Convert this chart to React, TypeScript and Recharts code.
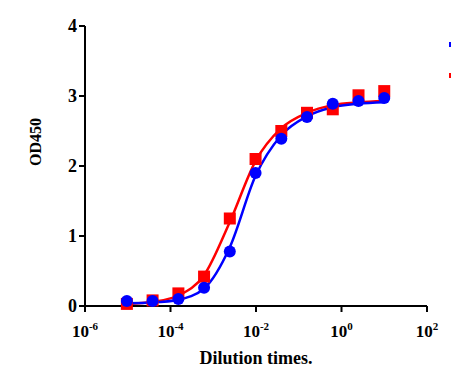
import { ComposedChart, Line, Scatter, XAxis, YAxis, Legend } from "recharts";

// dilution factors (4-fold series), ascending
const dilution = [9.54e-6, 3.81e-5, 1.53e-4, 6.1e-4, 2.44e-3, 9.77e-3, 0.0391, 0.156, 0.625, 2.5, 10];
const blueOD = [0.07, 0.07, 0.1, 0.26, 0.78, 1.9, 2.39, 2.7, 2.89, 2.93, 2.97];
const redOD = [0.03, 0.08, 0.18, 0.42, 1.25, 2.1, 2.5, 2.76, 2.81, 3.01, 3.07];
// fitted curves at the same dilutions
const blueFit = [0.04, 0.05, 0.09, 0.25, 0.84, 1.86, 2.44, 2.71, 2.84, 2.89, 2.91];
const redFit = [0.03, 0.06, 0.15, 0.44, 1.2, 2.07, 2.54, 2.76, 2.87, 2.91, 2.93];

const xTicks = [1e-6, 1e-4, 1e-2, 1, 100];
const xExp = ["-6", "-4", "-2", "0", "2"];
const yTicks = [0, 1, 2, 3, 4];

const blueData = dilution.map((x, i) => ({ x, y: blueOD[i] }));
const redData = dilution.map((x, i) => ({ x, y: redOD[i] }));
const blueLine = dilution.map((x, i) => ({ x, y: blueFit[i] }));
const redLine = dilution.map((x, i) => ({ x, y: redFit[i] }));

const FONT = "'Liberation Serif', 'Times New Roman', serif";

function PowTick(props: any) {
  const { x, y, payload } = props;
  const i = xTicks.indexOf(payload.value);
  return (
    <text x={x} y={y + 23} textAnchor="middle" fontFamily={FONT} fontWeight="bold" fontSize={17} fill="#000">
      <tspan>10</tspan>
      <tspan dy={-7} fontSize={11}>{xExp[i]}</tspan>
    </text>
  );
}

const Dot = (props: any) => <circle cx={props.cx} cy={props.cy} r={6} fill="#0000ff" />;
const Square = (props: any) => <rect x={props.cx - 6} y={props.cy - 6} width={12} height={12} fill="#ff0000" />;

function LegendMarks() {
  return (
    <div style={{ position: "relative", width: 451, height: 0 }}>
      <div style={{ position: "absolute", left: 449, top: 42, width: 2, height: 5, background: "#0000ff" }} />
      <div style={{ position: "absolute", left: 449, top: 73, width: 2, height: 5, background: "#ff0000" }} />
    </div>
  );
}

export default function App() {
  return (
    <div style={{ position: "absolute", left: 0, top: 0, width: 451, height: 377, background: "#fff" }}>
      <ComposedChart width={451} height={377} margin={{ top: 26, right: 24, bottom: 21, left: 25 }}>
        <XAxis
          dataKey="x"
          type="number"
          scale="log"
          domain={[1e-6, 100]}
          ticks={xTicks}
          tick={<PowTick />}
          axisLine={{ stroke: "#000", strokeWidth: 2 }}
          tickLine={{ stroke: "#000", strokeWidth: 2 }}
          tickSize={6}
          height={50}
          allowDataOverflow
          label={{ value: "Dilution times.", position: "insideBottom", offset: -8, fontFamily: FONT, fontWeight: "bold", fontSize: 18, fill: "#000" }}
        />
        <YAxis
          dataKey="y"
          type="number"
          domain={[0, 4]}
          ticks={yTicks}
          width={60}
          axisLine={{ stroke: "#000", strokeWidth: 2 }}
          tickLine={{ stroke: "#000", strokeWidth: 2 }}
          tickSize={6}
          tick={{ fontFamily: FONT, fontWeight: "bold", fontSize: 18, fill: "#000" }}
          label={{ value: "OD450", angle: -90, position: "insideLeft", offset: 10, fontFamily: FONT, fontWeight: "bold", fontSize: 16, fill: "#000" }}
        />
        <Legend content={<LegendMarks />} verticalAlign="top" wrapperStyle={{ top: 0, left: 0 }} />
        <Line data={redLine} dataKey="y" type="monotone" stroke="#ff0000" strokeWidth={2.5} dot={false} isAnimationActive={false} legendType="none" />
        <Scatter data={redData} dataKey="y" fill="#ff0000" shape={Square} legendType="none" isAnimationActive={false} />
        <Line data={blueLine} dataKey="y" type="monotone" stroke="#0000ff" strokeWidth={2.5} dot={false} isAnimationActive={false} legendType="none" />
        <Scatter data={blueData} dataKey="y" fill="#0000ff" shape={Dot} legendType="none" isAnimationActive={false} />
      </ComposedChart>
    </div>
  );
}
